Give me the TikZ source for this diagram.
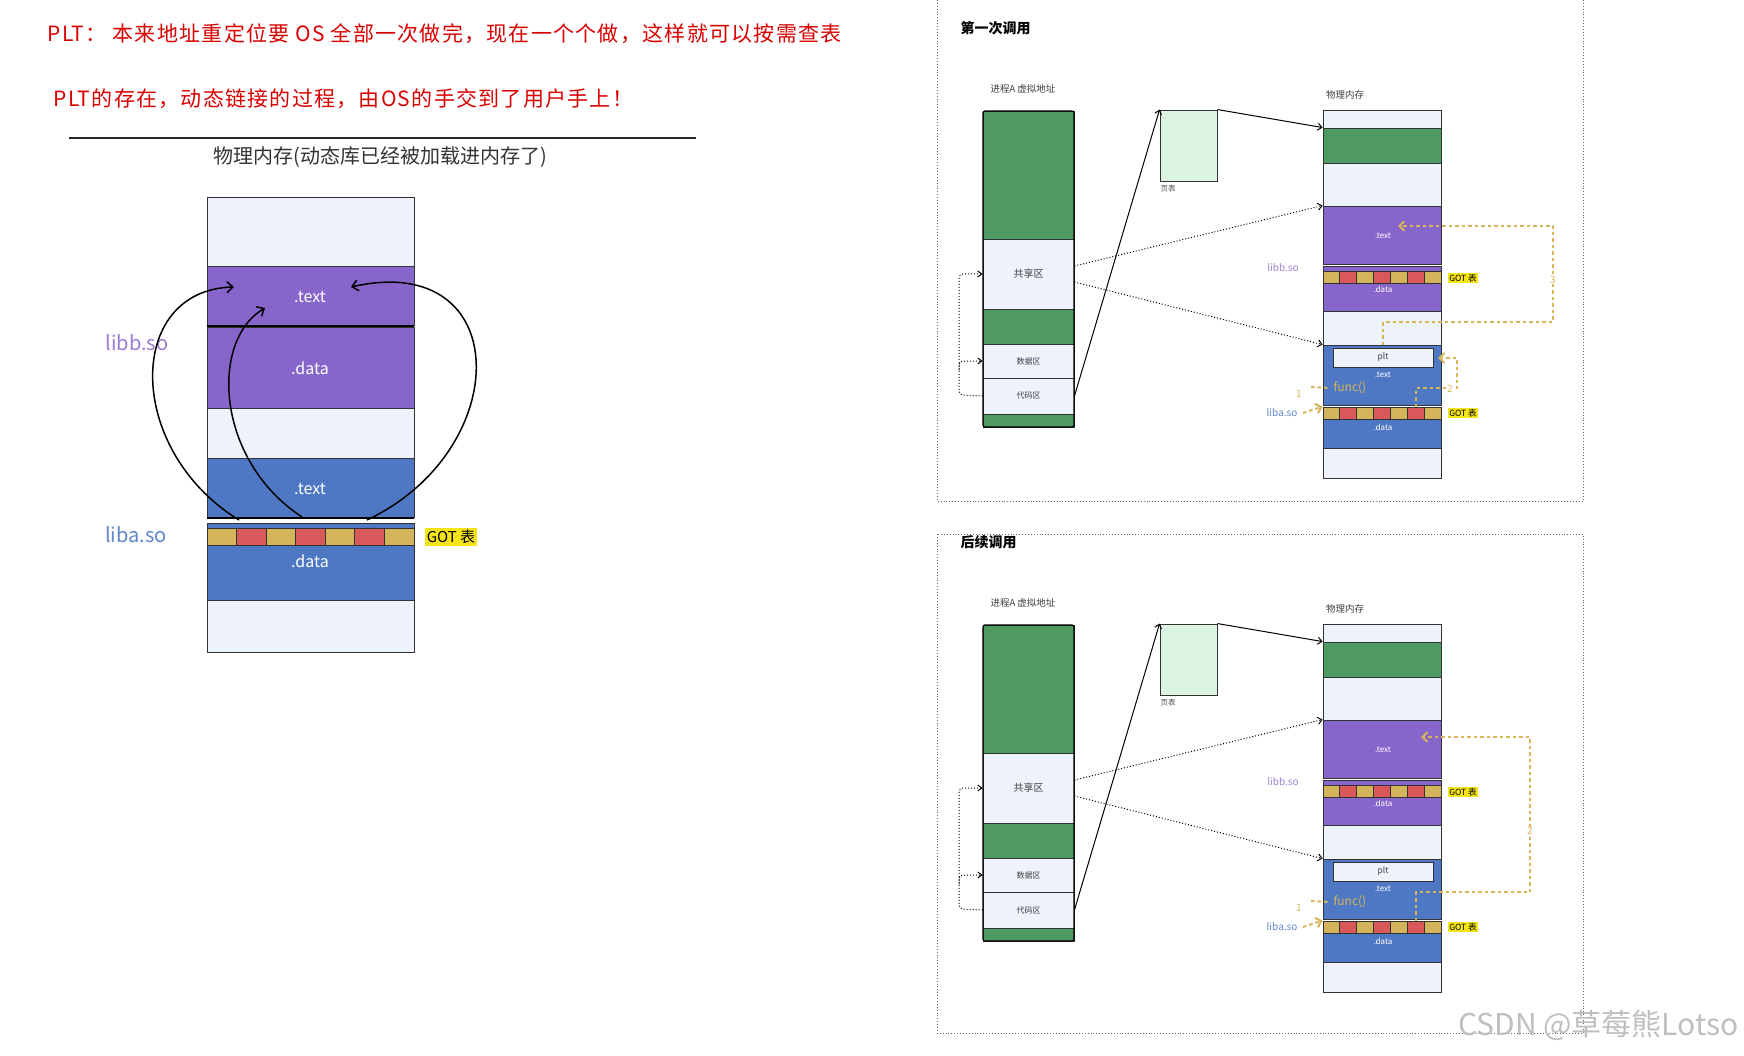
\documentclass[tikz,border=0pt]{standalone}
\usepackage{fontspec}
\setmainfont{Noto Sans CJK SC}
\newfontfamily\redfont[LetterSpace=6]{Noto Sans CJK SC}
\usetikzlibrary{arrows.meta}
\definecolor{lt}{HTML}{EEF2FB}
\definecolor{pu}{HTML}{8766CC}
\definecolor{bl}{HTML}{4E78C4}
\definecolor{gr}{HTML}{4E9A62}
\definecolor{ye}{HTML}{D4B45A}
\definecolor{rd}{HTML}{D9595B}
\definecolor{gl}{HTML}{F5E416}
\definecolor{yd}{HTML}{D6B656}
\definecolor{pg}{HTML}{DDF4E3}
\tikzset{blk/.style={draw=black!80,line width=0.9pt,inner sep=0pt},
 sm/.style={font=\fontsize{8}{9}\selectfont,text=white},
 ydash/.style={draw=yd,line width=2pt,dash pattern=on 3.5pt off 3pt},
 ytip/.style={-{Straight Barb[length=5pt,width=10pt]}},
 dots/.style={dotted,line width=1pt,-{Straight Barb[length=4pt,width=7pt]}},
 gotl/.style={fill=gl,inner sep=1pt,font=\fontsize{8.5}{9}\selectfont}}
\newcommand\blk[7]{\node[blk,fill=#6,minimum width={(#4-#2)*1pt},minimum height={(#5-#3)*1pt},text=black!75] (#1) at ({(#2+#4)/2},{(#3+#5)/2}) {#7};}
\newcommand\gotrow[4]{% x1 x2 y1 y2
 \foreach \i in {0,...,6}{\pgfmathsetmacro\cl{mod(\i,2)==0?1:0}
  \ifdim\cl pt>0.5pt \def\cc{ye}\else\def\cc{rd}\fi
  \filldraw[fill=\cc,draw=black!80,line width=0.8pt] ({#1+(#2-#1)*\i/7},#3) rectangle ({#1+(#2-#1)*(\i+1)/7},#4);}}
\newcommand\panel[2]{% prefix, title
 \node[font=\bfseries\fontsize{14}{14}\selectfont,anchor=west] (#1title) at (957,28) {#2};
 \node[font=\fontsize{9.5}{10}\selectfont,text=black!75] (#1vlab) at (1023,89) {进程A 虚拟地址};
 \blk{#1v1}{983}{111}{1074}{239}{gr}{}
 \blk{#1v2}{983}{239}{1074}{309}{lt}{\fontsize{10}{10}\selectfont 共享区}
 \blk{#1v3}{983}{309}{1074}{344}{gr}{}
 \blk{#1v4}{983}{344}{1074}{378}{lt}{\fontsize{8}{9}\selectfont 数据区}
 \blk{#1v5}{983}{378}{1074}{414}{lt}{\fontsize{8}{9}\selectfont 代码区}
 \blk{#1v6}{983}{414}{1074}{427}{gr}{}
 \draw[line width=1.2pt,rounded corners=2pt] (983,111) rectangle (1074,427);
 \blk{#1pt}{1160}{110}{1217}{181}{pg}{}
 \node[font=\fontsize{7.5}{8}\selectfont,text=black!70] (#1ptl) at (1168,189) {页表};
 \node[font=\fontsize{9.5}{10}\selectfont,text=black!75] (#1plab) at (1345,95) {物理内存};
 \blk{#1p1}{1323}{110}{1441}{128}{lt}{}
 \blk{#1p2}{1323}{128}{1441}{163}{gr}{}
 \blk{#1p3}{1323}{163}{1441}{206}{lt}{}
 \blk{#1p4}{1323}{206}{1441}{264}{pu}{}
 \blk{#1p5}{1323}{266}{1441}{311}{pu}{}
 \blk{#1p6}{1323}{311}{1441}{345}{lt}{}
 \blk{#1p7}{1323}{345}{1441}{405}{bl}{}
 \blk{#1p8}{1323}{407}{1441}{448}{bl}{}
 \blk{#1p9}{1323}{448}{1441}{478}{lt}{}
 \gotrow{1323}{1441}{271}{283}
 \gotrow{1323}{1441}{407}{419}
 \blk{#1plt}{1333}{348}{1433}{367}{lt}{\fontsize{8.5}{9}\selectfont plt}
 \node[sm] (#1t1) at (1383,236) {.text};
 \node[sm] (#1d1) at (1383,289) {.data};
 \node[sm] (#1t2) at (1383,375) {.text};
 \node[sm] (#1d2) at (1383,427) {.data};
 \node[text=pu!80,font=\fontsize{10}{10}\selectfont] (#1libb) at (1283,268) {libb.so};
 \node[text=bl!90,font=\fontsize{10}{10}\selectfont] (#1liba) at (1282,413) {liba.so};
 \node[gotl] (#1g1) at (1463,278) {GOT 表};
 \node[gotl] (#1g2) at (1463,413) {GOT 表};
 \draw[line width=1pt,-{Straight Barb[length=4pt,width=7pt]}] (#1v5.east) -- (#1pt.north west);
 \draw[line width=1pt,-{Straight Barb[length=4pt,width=7pt]}] (#1pt.north east) -- (#1p2.north west);
 \draw[dots] ([yshift=8pt]#1v2.east) -- (#1p4.north west);
 \draw[dots] ([yshift=-8pt]#1v2.east) -- (#1p7.north west);
 \coordinate (#1lc) at (959,395);
 \draw[dotted,line width=1pt,rounded corners=4pt,-{Straight Barb[length=4pt,width=6pt]}] (#1v5.west) -- (#1lc) |- (#1v2.west);
 \draw[dotted,line width=1pt,rounded corners=4pt,-{Straight Barb[length=4pt,width=6pt]}] (959,370) |- (#1v4.west);
 \node[text=yd,font=\fontsize{12}{12}\selectfont,anchor=west] (#1func) at (1330,388) {func()};
 \node[text=yd,font=\fontsize{10}{10}\selectfont] (#1one) at (1299,394) {1};
 \draw[ydash] (1311,387) -- (#1func.west);
 \draw[ydash,ytip] (1303,413) -- (#1p8.north west);
}
\begin{document}
\begin{tikzpicture}[x=1pt,y=-1pt]
\useasboundingbox (0,0) rectangle (1744,1056);
\fill[white] (0,0) rectangle (1744,1056);
% left text
\node[text=red!85!black,anchor=west,font=\redfont\fontsize{21}{22}\selectfont] (n1) at (44,34) {PLT： 本来地址重定位要 OS 全部一次做完，现在一个个做，这样就可以按需查表};
\node[text=red!85!black,anchor=west,font=\redfont\fontsize{21}{22}\selectfont] (n2) at (50,99) {PLT的存在，动态链接的过程，由OS的手交到了用户手上！};
\draw[line width=2.4pt,black!85] (69,138) -- (696,138);
\node[font=\fontsize{20}{22}\selectfont,text=black!80] (ttl) at (380,157) {物理内存(动态库已经被加载进内存了)};
\blk{a0}{207}{197}{414}{266}{lt}{}
\blk{a1}{207}{266}{414}{325}{pu}{}
\blk{a2}{207}{327}{414}{408}{pu}{}
\blk{a3}{207}{408}{414}{458}{lt}{}
\blk{a4}{207}{458}{414}{517}{bl}{}
\blk{a5}{207}{523}{414}{600}{bl}{}
\blk{a6}{207}{600}{414}{652}{lt}{}
\draw[line width=2.4pt] (207,326) -- (414,326);
\draw[line width=2pt] (207,518) -- (414,518);
\gotrow{207}{414}{528}{545}
\node[text=white,font=\fontsize{16}{17}\selectfont] (at1) at (310,297) {.text};
\node[text=white,font=\fontsize{16}{17}\selectfont] (ad1) at (310,368) {.data};
\node[text=white,font=\fontsize{16}{17}\selectfont] (at2) at (310,489) {.text};
\node[text=white,font=\fontsize{16}{17}\selectfont] (ad2) at (310,561) {.data};
\node[text=pu!85,font=\fontsize{20}{21}\selectfont] (lb) at (137,343) {libb.so};
\node[text=bl!90,font=\fontsize{20}{21}\selectfont] (la) at (136,535) {liba.so};
\node[fill=gl,inner sep=2pt,font=\fontsize{15}{17}\selectfont] (lg) at (451,537) {GOT 表};
\coordinate (s1) at (239,520); \coordinate (e1) at (234,287);
\coordinate (s2) at (302,517); \coordinate (e2) at (265,308);
\coordinate (s3) at (367,520); \coordinate (e3) at (351,287);
\tikzset{curv/.style={line width=1.5pt,-{Straight Barb[length=6pt,width=11pt]}}}
\draw[curv] (s1) .. controls (125,450) and (125,290) .. (e1);
\draw[curv] (s2) .. controls (215,460) and (210,340) .. (e2);
\draw[curv] (s3) .. controls (515,450) and (515,250) .. (e3);
% top panel
\draw[dotted,black!60,line width=0.9pt] (937,0) -- (937,501) -- (1583,501) -- (1583,0);
\panel{A}{第一次调用}
\draw[ydash,ytip] (1383,345) -- (1383,322) -- (1553,322) -- (1553,226) -- (1398,226);
\node[text=yd,font=\fontsize{10}{10}\selectfont,fill=white,inner sep=0.5pt] (A3) at (1553,280) {3};
\draw[ydash,ytip] (1416,407) -- (1416,388) -- (1457,388) -- (1457,358) -- (1438,358);
\node[text=yd,font=\fontsize{10}{10}\selectfont,fill=white,inner sep=0.5pt] (A2) at (1450,389) {2};
% bottom panel
\draw[dotted,black!60,line width=0.9pt] (937,534) rectangle (1583,1033);
\begin{scope}[yshift=-514pt]
\panel{B}{后续调用}
\draw[ydash,ytip] (1416,407) -- (1416,378) -- (1530,378) -- (1530,223) -- (1421,223);
\node[text=yd,font=\fontsize{10}{10}\selectfont,fill=white,inner sep=0.5pt] (B2) at (1530,317) {2};
\end{scope}
\node[text=black!25,font=\fontsize{30}{32}\selectfont,anchor=east] (wm) at (1742,1025) {CSDN @草莓熊Lotso};
\end{tikzpicture}
\end{document}
